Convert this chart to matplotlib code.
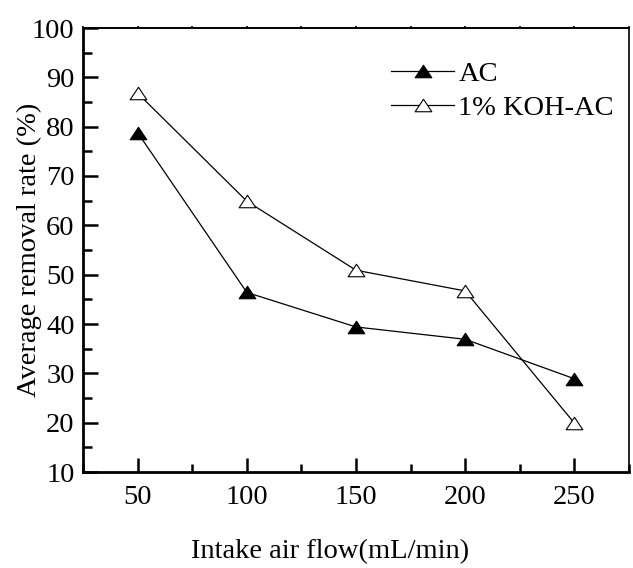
import matplotlib
matplotlib.use("Agg")
import matplotlib.pyplot as plt
from matplotlib.path import Path
from matplotlib.ticker import MultipleLocator

plt.rcParams['font.family'] = ['Liberation Serif', 'DejaVu Serif']

# Measured data
flow = [50, 100, 150, 200, 250]
ac = [78.8, 46.4, 39.4, 36.9, 28.9]
koh_ac = [86.8, 64.9, 50.9, 46.7, 19.9]
series_labels = ['AC', '1% KOH-AC']
x_ticks = [50, 100, 150, 200, 250]
y_ticks = [10, 20, 30, 40, 50, 60, 70, 80, 90, 100]

FS = 20.5

fig = plt.figure(figsize=(6.33, 5.68), dpi=100)
ax = fig.add_axes([83 / 633, 1 - 472 / 568, (629 - 83) / 633, (472 - 28) / 568])

# slightly flattened triangle marker
tri = Path([(0, 0.75), (-1, -0.75), (1, -0.75), (0, 0.75)],
           [Path.MOVETO, Path.LINETO, Path.LINETO, Path.CLOSEPOLY])

ax.plot(flow, ac, color='black', lw=0.9, marker=tri, ms=12,
        mfc='black', mec='black', mew=0.8, label=series_labels[0])
ax.plot(flow, koh_ac, color='black', lw=0.9, marker=tri, ms=12,
        mfc='white', mec='black', mew=0.8, label=series_labels[1])

ax.set_xlim(25, 275)
ax.set_ylim(10, 100)
ax.set_xticks(x_ticks)
ax.set_yticks(y_ticks)
ax.xaxis.set_minor_locator(MultipleLocator(25))
ax.yaxis.set_minor_locator(MultipleLocator(5))

ax.tick_params(axis='x', which='major', direction='in', length=10, width=1.8,
               labelsize=FS, pad=9, top=False)
ax.tick_params(axis='x', which='minor', direction='in', length=5.5, width=1.8, top=False)
ax.tick_params(axis='y', which='major', direction='in', length=11, width=1.8,
               labelsize=FS, pad=6, right=False)
ax.tick_params(axis='y', which='minor', direction='in', length=6.2, width=1.8, right=False)

# small outward marks along the top edge
top = ax.secondary_xaxis('top')
top.set_xticks(x_ticks)
top.xaxis.set_minor_locator(MultipleLocator(25))
top.tick_params(which='both', direction='out', length=1.5, width=1.2, labeltop=False)
top.spines['top'].set_linewidth(1.2)

for side in ['left', 'bottom']:
    ax.spines[side].set_linewidth(2.0)
for side in ['top', 'right']:
    ax.spines[side].set_linewidth(1.2)

ax.set_xlabel('Intake air flow(mL/min)', fontsize=FS)
ax.xaxis.set_label_coords(0.452, -0.152)
ax.set_ylabel('Average removal rate (%)', fontsize=FS)
ax.yaxis.set_label_coords(-0.075, 0.5)

leg = ax.legend(loc='upper left', bbox_to_anchor=(0.565, 0.925), frameon=False,
                fontsize=FS, handlelength=2.2, handletextpad=0.15,
                labelspacing=0.28, borderaxespad=0, borderpad=0)

fig.savefig('out.png', dpi=100)
